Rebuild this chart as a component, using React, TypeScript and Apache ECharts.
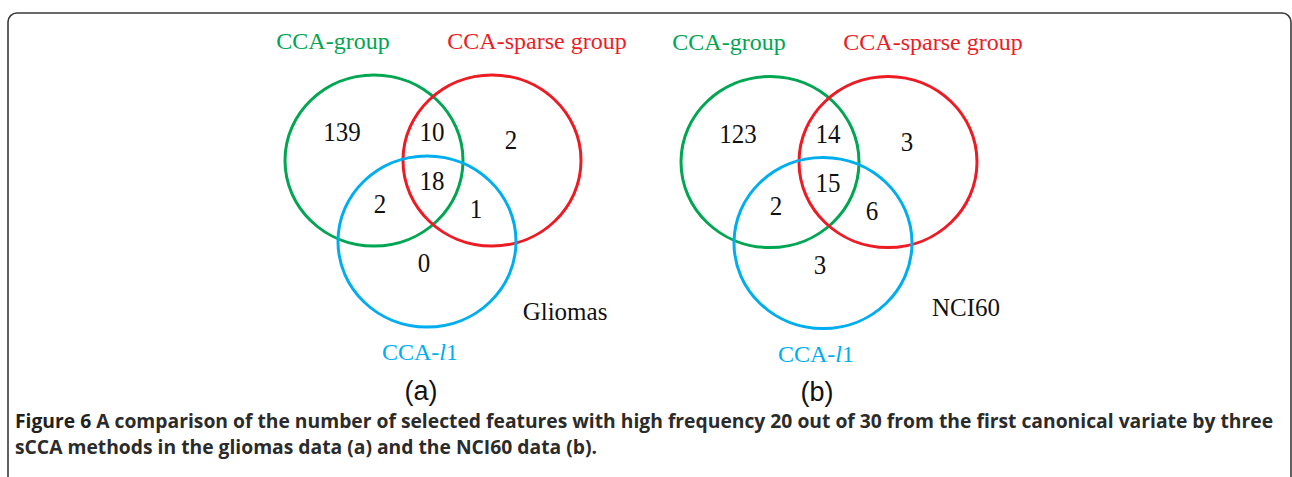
import React, { useEffect, useRef } from "react";
import * as echarts from "echarts";

// ---- data ----
const setNames = ["CCA-group", "CCA-sparse group", "CCA-l1"];
const regionKeys = ["onlyG", "onlyS", "onlyL", "GS", "GL", "SL", "GSL"];
const gliomasCounts = [139, 2, 0, 10, 2, 1, 18];
const nci60Counts = [123, 3, 3, 14, 2, 6, 15];
const datasetNames = ["Gliomas", "NCI60"];
const panelLabels = ["(a)", "(b)"];
const captionLead = "Figure 6";
const captionLine1 =
  " A comparison of the number of selected features with high frequency 20 out of 30 from the first canonical variate by three";
const captionLine2 = "sCCA methods in the gliomas data (a) and the NCI60 data (b).";

// ---- layout (styles / positions only) ----
const COLORS = ["#00A651", "#ED1C24", "#00AEEF"];
const panelCenters = [
  [374, 160.5],
  [770, 162],
];
const circleOffsets = [
  [0, 0],
  [118, 0],
  [53, 81],
];
const RX = 89;
const RY = 85.5;
const regionOffsets: Record<string, number[]> = {
  onlyG: [-32, -28],
  onlyS: [137, -20],
  onlyL: [50, 103],
  GS: [58, -28],
  GL: [6, 44],
  SL: [102, 49],
  GSL: [58, 21],
};
const setLabelOffsets = [
  [-41, -120],
  [163, -120],
  [46, 191.5],
];
const datasetOffsets = [
  [191, 150.5],
  [196, 145],
];
const panelLabelOffset = [47, 230];

const SERIF = "'Liberation Serif', 'Times New Roman', serif";
const SANS = "'Open Sans', 'Noto Sans', sans-serif";

function buildGraphic() {
  const els: any[] = [];
  // frame
  els.push({
    type: "rect",
    shape: { x: 8, y: 13, width: 1283, height: 520, r: 9 },
    style: { fill: "#fff", stroke: "#3a3a3a", lineWidth: 1.6 },
    z: 0,
  });
  const countsList = [gliomasCounts, nci60Counts];
  panelCenters.forEach(([cx, cy], p) => {
    circleOffsets.forEach(([dx, dy], i) => {
      els.push({
        type: "ellipse",
        shape: { cx: cx + dx, cy: cy + dy, rx: RX, ry: RY },
        style: { fill: "none", stroke: COLORS[i], lineWidth: 3 },
        z: 2,
      });
    });
    // set labels
    setNames.forEach((name, i) => {
      const [dx, dy] = setLabelOffsets[i];
      let text = name;
      let rich: any = undefined;
      if (name === "CCA-l1") {
        text = "{n|CCA-}{i|l}{n|1}";
        rich = {
          n: { fontFamily: SERIF, fontSize: 24, fill: COLORS[i] },
          i: { fontFamily: SERIF, fontSize: 24, fontStyle: "italic", fill: COLORS[i] },
        };
      }
      els.push({
        type: "text",
        x: cx + dx,
        y: cy + dy,
        z: 3,
        style: {
          text,
          rich,
          fill: COLORS[i],
          fontFamily: SERIF,
          fontSize: 24,
          align: "center",
          verticalAlign: "middle",
        },
      });
    });
    // region counts
    regionKeys.forEach((k, r) => {
      const [dx, dy] = regionOffsets[k];
      els.push({
        type: "text",
        x: cx + dx,
        y: cy + dy,
        z: 3,
        scaleY: 1.1,
        style: {
          text: String(countsList[p][r]),
          fill: "#111",
          fontFamily: SERIF,
          fontSize: 25,
          align: "center",
          verticalAlign: "middle",
        },
      });
    });
    // dataset name
    els.push({
      type: "text",
      x: cx + datasetOffsets[p][0],
      y: cy + datasetOffsets[p][1],
      z: 3,
      style: {
        text: datasetNames[p],
        fill: "#111",
        fontFamily: SERIF,
        fontSize: 25,
        align: "center",
        verticalAlign: "middle",
      },
    });
    // panel label
    els.push({
      type: "text",
      x: cx + panelLabelOffset[0],
      y: cy + panelLabelOffset[1],
      z: 3,
      style: {
        text: panelLabels[p],
        fill: "#111",
        fontFamily: "'Liberation Sans', Arial, sans-serif",
        fontSize: 27,
        align: "center",
        verticalAlign: "middle",
      },
    });
  });
  // caption
  els.push({
    type: "text",
    left: 15,
    top: 411,
    z: 3,
    style: {
      text: `{b|${captionLead}}{t|${captionLine1}}\n{t|${captionLine2}}`,
      rich: {
        b: { fontFamily: SANS, fontSize: 19.3, fontWeight: "bold", fill: "#231f20", lineHeight: 26 },
        t: { fontFamily: SANS, fontSize: 19.3, fontWeight: "bold", fill: "#2b2b2b", lineHeight: 26 },
      },
    },
  });
  return els;
}

export default function App() {
  const ref = useRef<HTMLDivElement>(null);
  useEffect(() => {
    if (!ref.current) return;
    const chart = echarts.init(ref.current, undefined, { renderer: "svg" });
    chart.setOption({
      animation: false,
      backgroundColor: "#ffffff",
      graphic: { elements: buildGraphic() },
    });
    return () => chart.dispose();
  }, []);
  return (
    <div
      ref={ref}
      style={{ position: "fixed", left: 0, top: 0, width: 1292, height: 477, background: "#fff" }}
    />
  );
}
